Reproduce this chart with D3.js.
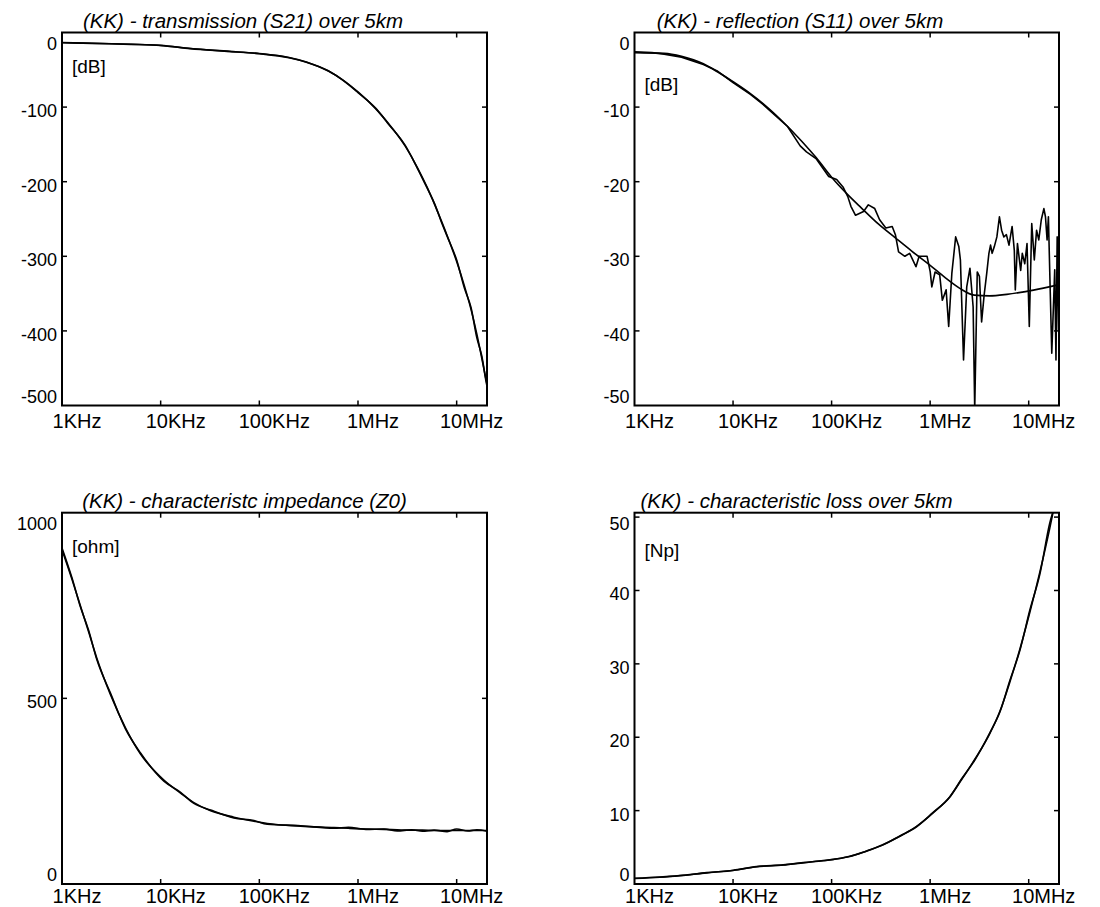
<!DOCTYPE html>
<html>
<head>
<meta charset="utf-8">
<script src="https://cdn.jsdelivr.net/npm/d3@7"></script>
<style>
    body { margin: 0; background: #fff; }
    svg { display: block; font-family: "Liberation Sans", Arial, sans-serif; }
    .frame { fill: none; stroke: #000; stroke-width: 2; }
    .tick-mark { stroke: #000; stroke-width: 1.5; }
    .trace { fill: none; stroke: #000; stroke-width: 1.6; stroke-linejoin: round; }
    .tick-label { font-size: 18px; fill: #000; }
    .x-label { font-size: 20px; }
    .title { font-size: 20.5px; font-style: italic; }
    .unit { font-size: 19px; }
</style>
</head>
<body>
<script>
// Frequency axis (kHz)
const FREQ_DOMAIN = [1, 20300];
const FREQ_TICKS = [1, 10, 100, 1000, 10000];
const FREQ_TICK_LABELS = ["1KHz", "10KHz", "100KHz", "1MHz", "10MHz"];

const TITLES = [
    "(KK) - transmission (S21) over 5km",
    "(KK) - reflection (S11) over 5km",
    "(KK) - characteristc impedance (Z0)",
    "(KK) - characteristic loss over 5km"
];
const UNITS = ["[dB]", "[dB]", "[ohm]", "[Np]"];

const Y_DOMAINS = [[-500, 0], [-50, 0], [0, 1000], [0, 50.6]];
const Y_TICKS = [
    [0, -100, -200, -300, -400, -500],
    [0, -10, -20, -30, -40, -50],
    [1000, 500, 0],
    [50, 40, 30, 20, 10, 0]
];

// Transmission S21 (dB)
const S21_FREQS = [1, 2, 5, 10, 20, 50, 100, 200, 300, 500, 700, 1000, 1500, 2000, 3000,
    4000, 5000, 6000, 7000, 8000, 10000, 12000, 14000, 16000, 18000, 20000, 20300];
const S21_MODEL = [-13.7, -14.5, -15.8, -17.4, -21.4, -25.5, -28.2, -33.5, -39.5, -51.7, -63.4,
    -79.7, -101.7, -120.5, -152, -181, -207, -231, -252.5, -272, -307, -340, -371.5, -404, -437, -467, -471];
const S21_MEASURED = [-13.5, -14.6, -15.9, -17.2, -21.6, -25.3, -28.4, -33.8, -39.8, -51.3, -63.9,
    -80.5, -101, -121.5, -151, -182, -208, -230, -254, -273, -305, -343, -369, -409, -434, -470, -474];

// Reflection S11 (dB)
const S11_FREQS = [1, 2, 3, 5, 7, 10, 15, 20, 30, 50, 70, 100, 150, 200, 300, 450, 650, 1000,
    1400, 2000, 2800, 4000, 6000, 8600, 12500, 20300];
const S11_MODEL = [-2.7, -2.8, -3.2, -4.2, -5.3, -6.6, -8.2, -9.5, -11.6, -14.6, -16.8, -19.4,
    -21.9, -23.5, -25.7, -27.6, -29.3, -31.2, -32.8, -34.3, -35.2, -35.3, -35.1, -34.8, -34.4, -33.8];
const S11_MEAS_FREQS = [1, 1.5, 2, 3, 5, 7, 10, 15, 20, 22.9, 35.7, 48, 55.6, 69.5, 93.5, 112.6,
    130.5, 146, 157, 175, 211, 236, 274, 307, 355, 412, 444, 478, 554, 619, 668, 718, 773, 931,
    1002, 1040, 1122, 1250, 1330, 1453, 1542, 1660, 1815, 1954, 2028, 2182, 2351, 2535, 2730,
    2833, 3006, 3162, 3328, 3530, 3750, 3947, 4101, 4256, 4480, 4755, 5047, 5309, 5598, 5940,
    6310, 6788, 7145, 7311, 7691, 8291, 8610, 9124, 9616, 10140, 10740, 11400, 12020, 12650,
    13420, 14260, 14800, 15370, 15850, 16560, 17150, 17810, 18370, 18920, 19450, 20050, 20300];
const S11_MEASURED = [-2.6, -2.7, -2.9, -3.3, -4.3, -5.2, -6.7, -8.3, -9.6, -10.3, -12.6, -15.2,
    -16.0, -16.9, -19.3, -19.7, -20.7, -22.0, -23.3, -24.5, -24.0, -23.1, -23.6, -25.1, -26.2,
    -26.0, -27.1, -29.4, -30.0, -29.6, -30.5, -31.4, -30.0, -30.0, -32.1, -34.1, -32.1, -32.5,
    -35.9, -34.5, -39.4, -32.3, -27.4, -28.7, -30.5, -43.9, -34.1, -31.6, -36.8, -50.5, -32.1,
    -32.7, -38.8, -35.2, -32.3, -29.6, -28.5, -29.6, -28.7, -27.4, -24.7, -26.5, -27.4, -27.1,
    -28.5, -26.0, -29.2, -34.5, -28.3, -31.9, -29.6, -31.0, -28.3, -39.4, -25.6, -30.5, -26.5,
    -27.8, -25.1, -23.6, -24.7, -27.8, -24.7, -35.0, -43.0, -36.8, -31.8, -43.9, -27.4, -39.9, -28.7];

// Characteristic impedance Z0 (ohm)
const Z0_FREQS = [1, 1.257, 1.53, 1.857, 2.25, 3.1, 4.41, 6.25, 10.78, 15.9, 21.7, 32.1, 55.2,
    88.2, 120.5, 262, 571, 800, 1200, 1835, 2500, 3500, 4500, 5900, 8000, 10000, 13000, 16000, 20300];
const Z0_MODEL = [900, 822, 751, 680, 609, 510, 420, 350, 280, 245, 219, 197, 180, 169, 163, 156,
    152, 150, 148, 147, 146, 145, 145, 144, 144, 144, 144, 144, 144];
const Z0_MEASURED = [905, 826, 748, 684, 605, 514, 417, 353, 277, 247, 217, 199, 178, 171, 161,
    157, 150, 153, 147, 148, 143, 146, 142, 145, 141, 148, 143, 146, 142];

// Characteristic loss (Np)
const LOSS_FREQS = [1, 1.81, 3.13, 5.4, 10.05, 17.3, 32.3, 51.5, 82.2, 104, 153, 226, 334, 493,
    728, 1072, 1585, 2080, 2840, 4030, 5090, 6430, 8130, 10260, 12970, 16370, 18400, 20300];
const LOSS_MODEL = [0.75, 0.93, 1.2, 1.52, 1.88, 2.34, 2.61, 2.88, 3.2, 3.33, 3.78, 4.46, 5.37,
    6.5, 7.86, 9.69, 11.9, 14.2, 17.0, 20.5, 23.5, 27.5, 32, 37, 42.5, 48.5, 51.8, 54.5];
const LOSS_MEASURED = [0.78, 0.95, 1.17, 1.55, 1.85, 2.37, 2.58, 2.92, 3.17, 3.36, 3.74, 4.5,
    5.33, 6.55, 7.8, 9.75, 11.85, 14.3, 16.9, 20.6, 23.4, 27.7, 31.8, 37.3, 42.2, 49.2, 51.6, 54];

// Panel placement on the page
const LAYOUTS = [
    {left: 62, top: 32.5, width: 425, height: 373, titleX: 181, unitY: 34},
    {left: 634.5, top: 32.5, width: 424.5, height: 373, titleX: 165.5, unitY: 52},
    {left: 62, top: 512.7, width: 425, height: 371.3, titleX: 182.5, unitY: 34},
    {left: 634.5, top: 512.7, width: 424.5, height: 371.3, titleX: 162, unitY: 38}
];

const toPoints = (freqs, values) => freqs.map((f, i) => ({"freq": f, "value": values[i]}));

const PANELS = [
    [toPoints(S21_FREQS, S21_MODEL), toPoints(S21_FREQS, S21_MEASURED)],
    [toPoints(S11_FREQS, S11_MODEL), toPoints(S11_MEAS_FREQS, S11_MEASURED)],
    [toPoints(Z0_FREQS, Z0_MODEL), toPoints(Z0_FREQS, Z0_MEASURED)],
    [toPoints(LOSS_FREQS, LOSS_MODEL), toPoints(LOSS_FREQS, LOSS_MEASURED)]
].map((series, i) => ({
    "title": TITLES[i],
    "unit": UNITS[i],
    "yDomain": Y_DOMAINS[i],
    "yTicks": Y_TICKS[i],
    "series": series,
    // the noisy S11 measurement is drawn point to point
    "curves": i == 1 ? [d3.curveMonotoneX, d3.curveLinear] : [d3.curveMonotoneX, d3.curveMonotoneX]
}));


class PanelPresenter {

    constructor(svg, layout, index) {
        const self = this;

        self._layout = layout;
        self._clipId = "clip-" + index;

        self._group = svg.append("g")
            .attr("transform", "translate(" + layout.left + " " + layout.top + ")");

        self._group.append("clipPath")
            .attr("id", self._clipId)
            .append("rect")
            .attr("width", layout.width)
            .attr("height", layout.height);
    }

    update(panel) {
        const self = this;
        const layout = self._layout;
        const tickLength = 5;

        // Make scales
        const horizontalScale = d3.scaleLog()
            .domain(FREQ_DOMAIN)
            .range([0, layout.width]);

        const verticalScale = d3.scaleLinear()
            .domain(panel.yDomain)
            .range([layout.height, 0]);

        const updateTraces = () => {
            const traces = self._group.append("g")
                .attr("clip-path", "url(#" + self._clipId + ")");

            panel.series.forEach((points, i) => {
                const line = d3.line()
                    .curve(panel.curves[i])
                    .x((d) => horizontalScale(d["freq"]))
                    .y((d) => verticalScale(d["value"]));

                traces.append("path")
                    .datum(points)
                    .classed("trace", true)
                    .attr("d", line);
            });
        };

        const updateFrame = () => {
            self._group.append("rect")
                .classed("frame", true)
                .attr("width", layout.width)
                .attr("height", layout.height);

            // Inward ticks on all four sides
            const innerFreqs = FREQ_TICKS.filter((t) => t > FREQ_DOMAIN[0]);
            innerFreqs.forEach((t) => {
                const x = horizontalScale(t);
                self._group.append("line").classed("tick-mark", true)
                    .attr("x1", x).attr("x2", x)
                    .attr("y1", layout.height).attr("y2", layout.height - tickLength);
                self._group.append("line").classed("tick-mark", true)
                    .attr("x1", x).attr("x2", x)
                    .attr("y1", 0).attr("y2", tickLength);
            });

            panel.yTicks.forEach((t) => {
                const y = verticalScale(t);
                if (y < 1 || y > layout.height - 1) {
                    return;
                }
                self._group.append("line").classed("tick-mark", true)
                    .attr("x1", 0).attr("x2", tickLength)
                    .attr("y1", y).attr("y2", y);
                self._group.append("line").classed("tick-mark", true)
                    .attr("x1", layout.width).attr("x2", layout.width - tickLength)
                    .attr("y1", y).attr("y2", y);
            });
        };

        const updateLabels = () => {
            // Keep the bottom row of labels on the page
            const labelY = Math.min(layout.height + 22, 907 - layout.top - 4);

            self._group.selectAll(".x-label")
                .data(FREQ_TICKS)
                .enter()
                .append("text")
                .classed("tick-label", true)
                .classed("x-label", true)
                .attr("text-anchor", "middle")
                .attr("x", (t) => horizontalScale(t) + 15)
                .attr("y", labelY)
                .text((t, i) => FREQ_TICK_LABELS[i]);

            // Edge labels are kept inside the frame height
            self._group.selectAll(".y-label")
                .data(panel.yTicks)
                .enter()
                .append("text")
                .classed("tick-label", true)
                .classed("y-label", true)
                .attr("text-anchor", "end")
                .attr("dominant-baseline", "central")
                .attr("x", -5)
                .attr("y", (t) => {
                    const y = verticalScale(t) + 4;
                    return Math.max(11, Math.min(layout.height - 9, y));
                })
                .text((t) => t);

            self._group.append("text")
                .classed("title", true)
                .attr("text-anchor", "middle")
                .attr("x", layout.titleX)
                .attr("y", -5)
                .text(panel.title);

            self._group.append("text")
                .classed("unit", true)
                .attr("dominant-baseline", "central")
                .attr("x", 10)
                .attr("y", layout.unitY)
                .text(panel.unit);
        };

        updateTraces();
        updateFrame();
        updateLabels();
    }

}

const svg = d3.select("body").append("svg")
    .attr("width", 1100)
    .attr("height", 907);

PANELS.forEach((panel, i) => {
    const presenter = new PanelPresenter(svg, LAYOUTS[i], i);
    presenter.update(panel);
});
</script>
</body>
</html>
